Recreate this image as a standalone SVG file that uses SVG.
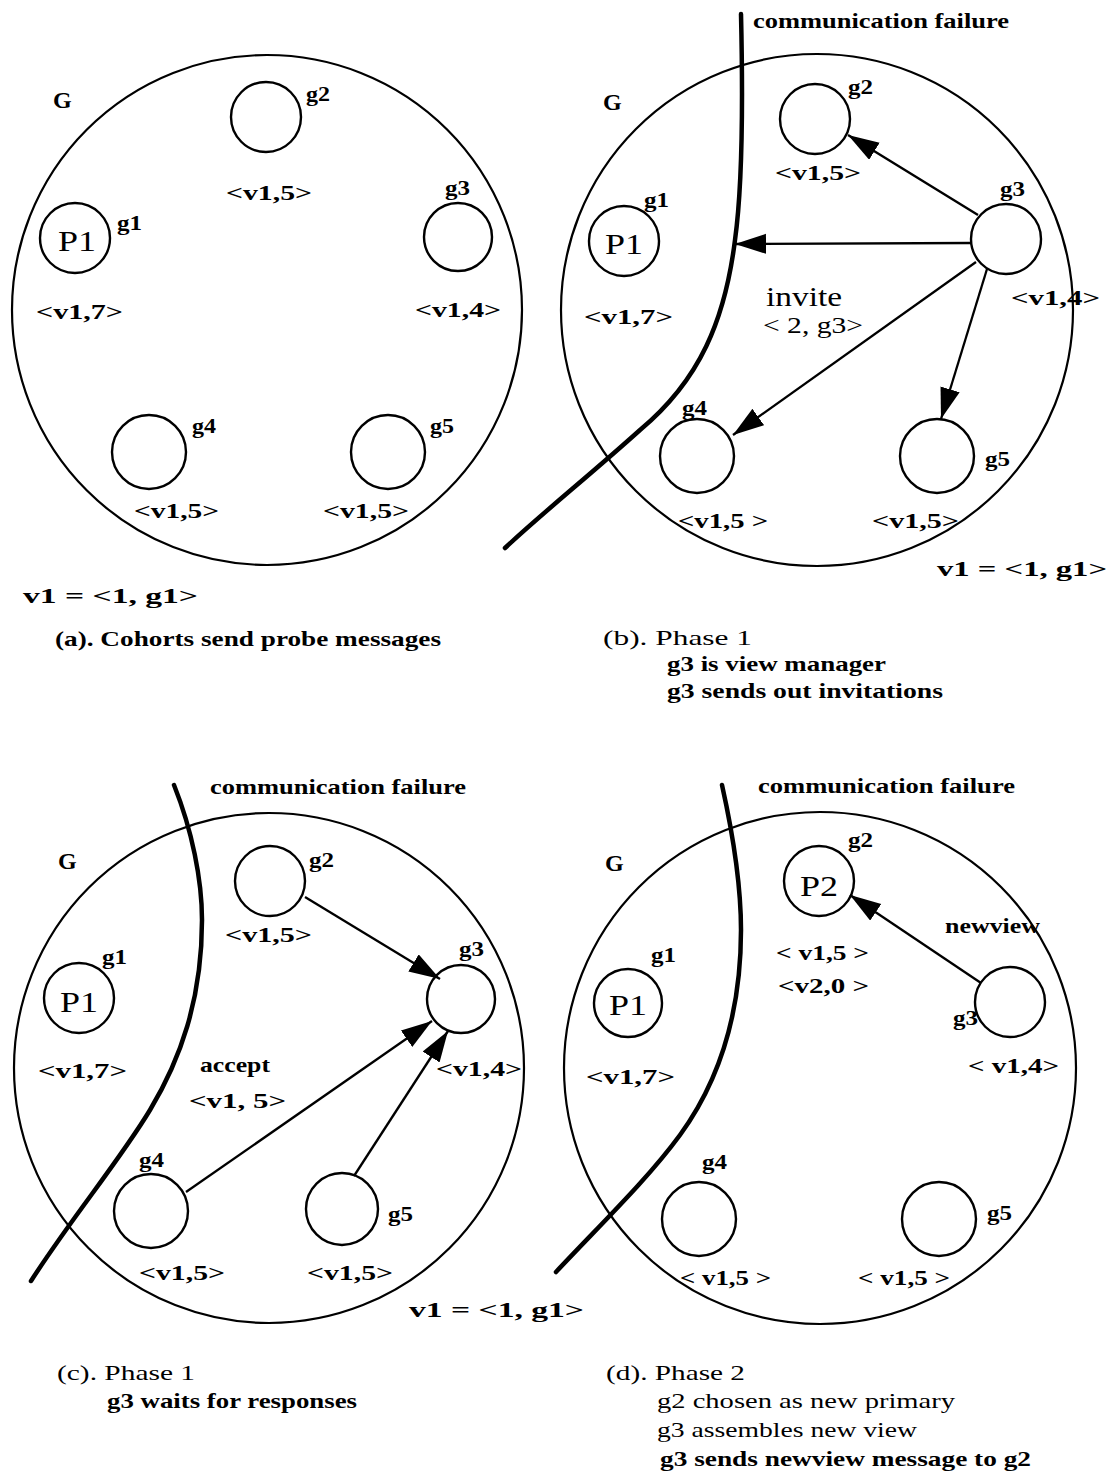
<svg xmlns="http://www.w3.org/2000/svg" width="1119" height="1479" viewBox="0 0 1119 1479">
<style>
.big{fill:none;stroke:#000;stroke-width:2.2}
.node{fill:none;stroke:#000;stroke-width:2.4}
.fail{fill:none;stroke:#000;stroke-width:4.5;stroke-linecap:round}
.edge{fill:none;stroke:#000;stroke-width:2.3}
text{font-family:"Liberation Serif","Times New Roman",serif;fill:#000}
.b{font-weight:bold;font-size:22px}
.gg{font-weight:bold;font-size:24px}
.p{font-weight:normal;font-size:29px}
.cap{font-size:22px;font-weight:normal}
.capb{font-size:22px;font-weight:bold}
.inv{font-weight:normal;font-size:28px}
.inv2{font-weight:normal;font-size:23px}
</style>
<defs>
<marker id="ah" markerUnits="userSpaceOnUse" markerWidth="34" markerHeight="22" refX="31" refY="10" orient="auto">
<path d="M0,0 L31,10 L0,20 z" fill="#000"/>
</marker>
</defs>
<rect width="1119" height="1479" fill="#fff"/>

<!-- Panel (a) -->
<g id="panel-a">
<g id="a-G"><circle class="big" cx="267" cy="310" r="255"/><text class="gg" x="53" y="108">G</text></g>
<g id="a-g2"><circle class="node" cx="266" cy="117" r="35"/><text class="b" x="306" y="101" textLength="24" lengthAdjust="spacingAndGlyphs">g2</text><text class="b" x="226" y="200" textLength="86" lengthAdjust="spacingAndGlyphs">&lt;v1,5&gt;</text></g>
<g id="a-g1"><circle class="node" cx="75" cy="238" r="35"/><text class="p" x="58" y="251" textLength="38" lengthAdjust="spacingAndGlyphs">P1</text><text class="b" x="117" y="230" textLength="25" lengthAdjust="spacingAndGlyphs">g1</text><text class="b" x="36" y="319" textLength="87" lengthAdjust="spacingAndGlyphs">&lt;v1,7&gt;</text></g>
<g id="a-g3"><circle class="node" cx="458" cy="237" r="34"/><text class="b" x="445" y="195" textLength="25" lengthAdjust="spacingAndGlyphs">g3</text><text class="b" x="415" y="317" textLength="86" lengthAdjust="spacingAndGlyphs">&lt;v1,4&gt;</text></g>
<g id="a-g4"><circle class="node" cx="149" cy="452" r="37"/><text class="b" x="192" y="433" textLength="24" lengthAdjust="spacingAndGlyphs">g4</text><text class="b" x="134" y="518" textLength="85" lengthAdjust="spacingAndGlyphs">&lt;v1,5&gt;</text></g>
<g id="a-g5"><circle class="node" cx="388" cy="452" r="37"/><text class="b" x="430" y="433" textLength="24" lengthAdjust="spacingAndGlyphs">g5</text><text class="b" x="323" y="518" textLength="86" lengthAdjust="spacingAndGlyphs">&lt;v1,5&gt;</text></g>
<g id="a-connectors"></g>
<text class="b" x="23" y="603" textLength="175" lengthAdjust="spacingAndGlyphs">v1 =  &lt;1, g1&gt;</text>
<text class="capb" x="55" y="646" textLength="386" lengthAdjust="spacingAndGlyphs">(a). Cohorts send probe messages</text>
</g>

<!-- Panel (b) -->
<g id="panel-b">
<g id="b-G"><circle class="big" cx="817" cy="310" r="256"/><text class="gg" x="603" y="110">G</text></g>
<g id="b-g2"><circle class="node" cx="815" cy="119" r="35"/><text class="b" x="848" y="94" textLength="25" lengthAdjust="spacingAndGlyphs">g2</text><text class="b" x="775" y="180" textLength="86" lengthAdjust="spacingAndGlyphs">&lt;v1,5&gt;</text></g>
<g id="b-g1"><circle class="node" cx="624" cy="241" r="35"/><text class="p" x="605" y="254" textLength="38" lengthAdjust="spacingAndGlyphs">P1</text><text class="b" x="644" y="207" textLength="25" lengthAdjust="spacingAndGlyphs">g1</text><text class="b" x="584" y="324" textLength="89" lengthAdjust="spacingAndGlyphs">&lt;v1,7&gt;</text></g>
<g id="b-g3"><circle class="node" cx="1006" cy="239" r="35"/><text class="b" x="1000" y="196" textLength="25" lengthAdjust="spacingAndGlyphs">g3</text><text class="b" x="1011" y="305" textLength="89" lengthAdjust="spacingAndGlyphs">&lt;v1,4&gt;</text></g>
<g id="b-g4"><circle class="node" cx="697" cy="456" r="37"/><text class="b" x="682" y="415" textLength="25" lengthAdjust="spacingAndGlyphs">g4</text><text class="b" x="678" y="528" textLength="90" lengthAdjust="spacingAndGlyphs">&lt;v1,5 &gt;</text></g>
<g id="b-g5"><circle class="node" cx="937" cy="456" r="37"/><text class="b" x="985" y="466" textLength="25" lengthAdjust="spacingAndGlyphs">g5</text><text class="b" x="872" y="528" textLength="87" lengthAdjust="spacingAndGlyphs">&lt;v1,5&gt;</text></g>
<g id="b-failure"><path class="fail" d="M741,14 C743,100 742,190 735,240 C725,320 700,380 640,430 C590,475 540,515 505,548"/><text class="b" x="753" y="28" textLength="256" lengthAdjust="spacingAndGlyphs">communication failure</text></g>
<g id="b-connectors">
<line class="edge" x1="978" y1="215" x2="848" y2="135" marker-end="url(#ah)"/>
<line class="edge" x1="971" y1="243" x2="735" y2="244" marker-end="url(#ah)"/>
<line class="edge" x1="976" y1="262" x2="733" y2="435" marker-end="url(#ah)"/>
<line class="edge" x1="987" y1="269" x2="941" y2="419" marker-end="url(#ah)"/>
<text class="inv" x="766" y="306" textLength="76" lengthAdjust="spacingAndGlyphs">invite</text>
<text class="inv2" x="763" y="333" textLength="100" lengthAdjust="spacingAndGlyphs">&lt; 2, g3&gt;</text>
</g>
<text class="b" x="937" y="576" textLength="170" lengthAdjust="spacingAndGlyphs">v1 =  &lt;1, g1&gt;</text>
<text class="cap" x="603" y="645" textLength="149" lengthAdjust="spacingAndGlyphs">(b).  Phase 1</text>
<text class="capb" x="667" y="671" textLength="219" lengthAdjust="spacingAndGlyphs">g3 is view manager</text>
<text class="capb" x="667" y="698" textLength="276" lengthAdjust="spacingAndGlyphs">g3 sends out invitations</text>
</g>

<!-- Panel (c) -->
<g id="panel-c">
<g id="c-G"><circle class="big" cx="269" cy="1068" r="255"/><text class="gg" x="58" y="869">G</text></g>
<g id="c-g2"><circle class="node" cx="270" cy="881" r="35"/><text class="b" x="309" y="867" textLength="25" lengthAdjust="spacingAndGlyphs">g2</text><text class="b" x="225" y="942" textLength="87" lengthAdjust="spacingAndGlyphs">&lt;v1,5&gt;</text></g>
<g id="c-g1"><circle class="node" cx="79" cy="998" r="35"/><text class="p" x="60" y="1012" textLength="38" lengthAdjust="spacingAndGlyphs">P1</text><text class="b" x="102" y="964" textLength="25" lengthAdjust="spacingAndGlyphs">g1</text><text class="b" x="38" y="1078" textLength="89" lengthAdjust="spacingAndGlyphs">&lt;v1,7&gt;</text></g>
<g id="c-g3"><circle class="node" cx="461" cy="999" r="34"/><text class="b" x="459" y="956" textLength="25" lengthAdjust="spacingAndGlyphs">g3</text><text class="b" x="436" y="1076" textLength="86" lengthAdjust="spacingAndGlyphs">&lt;v1,4&gt;</text></g>
<g id="c-g4"><circle class="node" cx="151" cy="1211" r="37"/><text class="b" x="139" y="1167" textLength="25" lengthAdjust="spacingAndGlyphs">g4</text><text class="b" x="139" y="1280" textLength="86" lengthAdjust="spacingAndGlyphs">&lt;v1,5&gt;</text></g>
<g id="c-g5"><circle class="node" cx="342" cy="1209" r="36"/><text class="b" x="388" y="1221" textLength="25" lengthAdjust="spacingAndGlyphs">g5</text><text class="b" x="307" y="1280" textLength="86" lengthAdjust="spacingAndGlyphs">&lt;v1,5&gt;</text></g>
<g id="c-failure"><path class="fail" d="M174,785 C192,830 202,880 202,920 C202,1000 180,1060 150,1110 C120,1160 70,1220 31,1281"/><text class="b" x="210" y="794" textLength="256" lengthAdjust="spacingAndGlyphs">communication failure</text></g>
<g id="c-connectors">
<line class="edge" x1="305" y1="897" x2="440" y2="979" marker-end="url(#ah)"/>
<line class="edge" x1="186" y1="1192" x2="432" y2="1021" marker-end="url(#ah)"/>
<line class="edge" x1="354" y1="1176" x2="448" y2="1031" marker-end="url(#ah)"/>
<text class="b" x="200" y="1072" textLength="70" lengthAdjust="spacingAndGlyphs">accept</text>
<text class="b" x="189" y="1108" textLength="97" lengthAdjust="spacingAndGlyphs">&lt;v1, 5&gt;</text>
</g>
<text class="b" x="409" y="1317" textLength="175" lengthAdjust="spacingAndGlyphs">v1 =  &lt;1, g1&gt;</text>
<text class="cap" x="57" y="1380" textLength="138" lengthAdjust="spacingAndGlyphs">(c). Phase 1</text>
<text class="capb" x="107" y="1408" textLength="250" lengthAdjust="spacingAndGlyphs">g3 waits for responses</text>
</g>

<!-- Panel (d) -->
<g id="panel-d">
<g id="d-G"><circle class="big" cx="820" cy="1068" r="256"/><text class="gg" x="605" y="871">G</text></g>
<g id="d-g2"><circle class="node" cx="819" cy="881" r="35"/><text class="p" x="800" y="896" textLength="38" lengthAdjust="spacingAndGlyphs">P2</text><text class="b" x="848" y="847" textLength="25" lengthAdjust="spacingAndGlyphs">g2</text><text class="b" x="776" y="960" textLength="93" lengthAdjust="spacingAndGlyphs">&lt; v1,5 &gt;</text><text class="b" x="778" y="993" textLength="91" lengthAdjust="spacingAndGlyphs">&lt;v2,0 &gt;</text></g>
<g id="d-g1"><circle class="node" cx="628" cy="1003" r="34"/><text class="p" x="609" y="1015" textLength="38" lengthAdjust="spacingAndGlyphs">P1</text><text class="b" x="651" y="962" textLength="25" lengthAdjust="spacingAndGlyphs">g1</text><text class="b" x="586" y="1084" textLength="89" lengthAdjust="spacingAndGlyphs">&lt;v1,7&gt;</text></g>
<g id="d-g3"><circle class="node" cx="1010" cy="1002" r="35"/><text class="b" x="953" y="1025" textLength="25" lengthAdjust="spacingAndGlyphs">g3</text><text class="b" x="968" y="1073" textLength="91" lengthAdjust="spacingAndGlyphs">&lt; v1,4&gt;</text></g>
<g id="d-g4"><circle class="node" cx="699" cy="1219" r="37"/><text class="b" x="702" y="1169" textLength="25" lengthAdjust="spacingAndGlyphs">g4</text><text class="b" x="680" y="1285" textLength="91" lengthAdjust="spacingAndGlyphs">&lt; v1,5 &gt;</text></g>
<g id="d-g5"><circle class="node" cx="939" cy="1219" r="37"/><text class="b" x="987" y="1220" textLength="25" lengthAdjust="spacingAndGlyphs">g5</text><text class="b" x="858" y="1285" textLength="92" lengthAdjust="spacingAndGlyphs">&lt; v1,5 &gt;</text></g>
<g id="d-failure"><path class="fail" d="M722,785 C732,830 741,880 741,930 C741,1010 720,1080 680,1135 C647,1180 600,1225 556,1272"/><text class="b" x="758" y="793" textLength="257" lengthAdjust="spacingAndGlyphs">communication failure</text></g>
<g id="d-connectors">
<line class="edge" x1="981" y1="983" x2="850" y2="895" marker-end="url(#ah)"/>
<text class="b" x="945" y="933" textLength="95" lengthAdjust="spacingAndGlyphs">newview</text>
</g>
<text class="cap" x="606" y="1380" textLength="139" lengthAdjust="spacingAndGlyphs">(d). Phase 2</text>
<text class="cap" x="657" y="1408" textLength="298" lengthAdjust="spacingAndGlyphs">g2 chosen as new primary</text>
<text class="cap" x="657" y="1437" textLength="260" lengthAdjust="spacingAndGlyphs">g3 assembles new view</text>
<text class="capb" x="660" y="1466" textLength="371" lengthAdjust="spacingAndGlyphs">g3 sends newview message to g2</text>
</g>
</svg>
